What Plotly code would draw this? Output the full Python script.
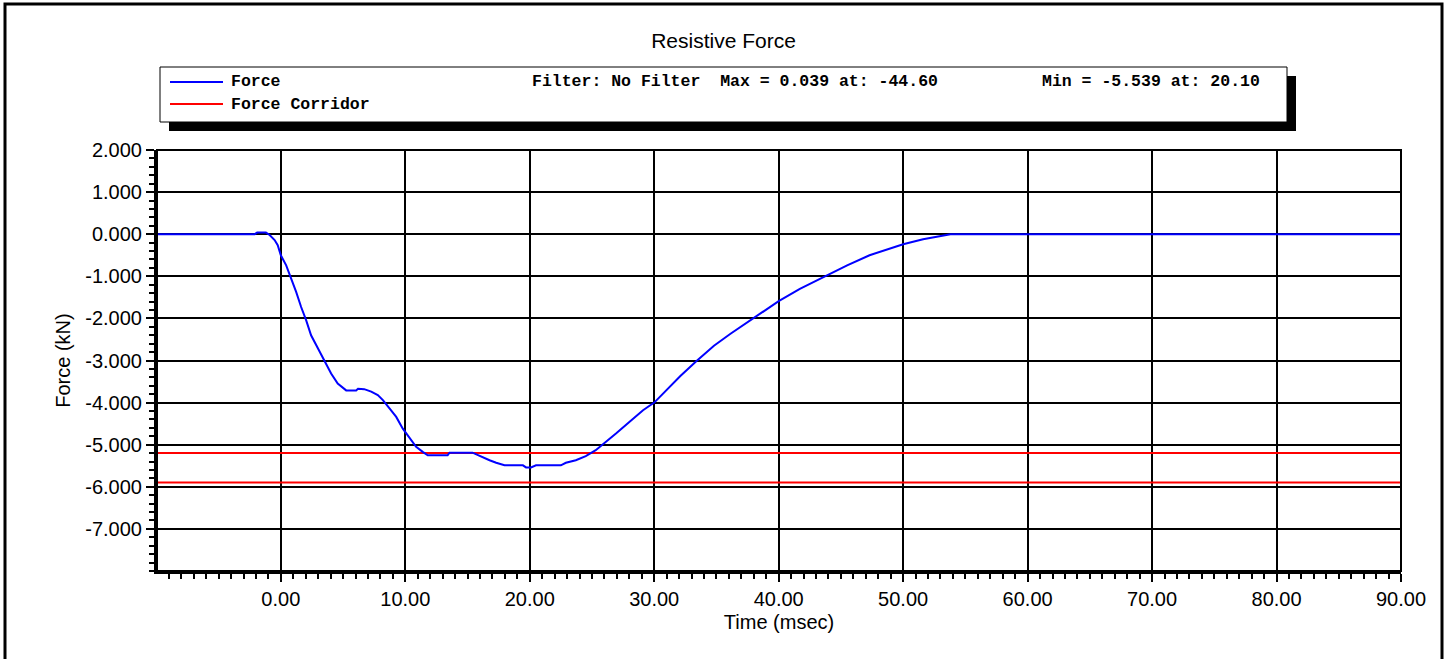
import plotly.graph_objects as go

# ---------------- data ----------------
time_ms = [-10, -2.1, -1.9, -1.2, -0.9, -0.5, -0.25, 0.0, 0.43, 0.83, 1.23, 1.63, 2.03, 2.43,
           2.84, 3.24, 3.64, 4.04, 4.57, 5.25, 6.05, 6.2, 6.7, 7.26, 7.79, 8.2, 8.73, 9.27,
           9.8, 10.34, 10.87, 11.4, 11.8, 13.4, 13.55, 15.4, 15.96, 16.77, 17.3, 17.97,
           19.45, 19.7, 20.1, 20.5, 22.5, 22.9, 23.7, 24.5, 25.3, 26.15, 26.95, 28.0, 29.1,
           30.0, 31.0, 32.1, 33.4, 34.8, 36.1, 37.8, 40.0, 41.7, 43.6, 45.5, 47.3, 48.7,
           50.0, 51.6, 53.0, 53.8, 90]
force_kn = [0, 0, 0.039, 0.039, -0.02, -0.14, -0.26, -0.50, -0.74, -1.05, -1.37, -1.73, -2.04,
            -2.40, -2.64, -2.87, -3.11, -3.31, -3.55, -3.71, -3.71, -3.67, -3.68, -3.74, -3.82,
            -3.94, -4.14, -4.34, -4.62, -4.85, -5.05, -5.17, -5.25, -5.25, -5.19, -5.19, -5.27,
            -5.37, -5.43, -5.49, -5.49, -5.539, -5.539, -5.49, -5.49, -5.43, -5.37, -5.27,
            -5.13, -4.93, -4.73, -4.46, -4.18, -4.0, -3.69, -3.37, -3.01, -2.65, -2.37, -2.03,
            -1.59, -1.30, -1.02, -0.74, -0.50, -0.37, -0.24, -0.12, -0.04, 0, 0]
corridor_t = [-10, 90]
corridor_upper = [-5.2, -5.2]
corridor_lower = [-5.9, -5.9]

x_tick_vals = [0, 10, 20, 30, 40, 50, 60, 70, 80, 90]
x_tick_text = ["0.00", "10.00", "20.00", "30.00", "40.00", "50.00", "60.00", "70.00", "80.00", "90.00"]
y_tick_vals = [2, 1, 0, -1, -2, -3, -4, -5, -6, -7]
y_tick_text = ["2.000", "1.000", "0.000", "-1.000", "-2.000", "-3.000", "-4.000", "-5.000", "-6.000", "-7.000"]

legend_names = ["Force", "Force Corridor"]
stats_filter = "Filter: No Filter  Max = 0.039 at: -44.60"
stats_min = "Min = -5.539 at: 20.10"

# ---------------- layout helpers ----------------
W, H = 1447, 659
L, R, T, B = 157, 1401, 150, 571


def px(x):
    return (x - L) / (R - L)


def py(y):
    return (B - y) / (B - T)


FONT = "Liberation Sans, Arial, sans-serif"
MONO = "Liberation Mono, Courier New, monospace"
TICK_SIZE = 20

fig = go.Figure()
fig.add_trace(go.Scatter(x=corridor_t, y=corridor_upper, mode="lines",
                         line=dict(color="#ff0000", width=2), showlegend=False))
fig.add_trace(go.Scatter(x=corridor_t, y=corridor_lower, mode="lines",
                         line=dict(color="#ff0000", width=2), showlegend=False))
fig.add_trace(go.Scatter(x=time_ms, y=force_kn, mode="lines",
                         line=dict(color="#0000ff", width=2), showlegend=False))

shapes = []
# outer border
shapes.append(dict(type="rect", xref="paper", yref="paper", x0=px(5), x1=px(1442), y0=py(700), y1=py(4),
                   line=dict(color="black", width=3), layer="below"))
# legend shadow + box
shapes.append(dict(type="rect", xref="paper", yref="paper", x0=px(169), x1=px(1296), y0=py(131), y1=py(76),
                   line=dict(width=0), fillcolor="black"))
shapes.append(dict(type="rect", xref="paper", yref="paper", x0=px(160), x1=px(1287), y0=py(122), y1=py(67),
                   line=dict(color="black", width=1), fillcolor="white"))
# legend keys
for color, yy in [("#0000ff", 82), ("#ff0000", 104)]:
    shapes.append(dict(type="line", xref="paper", yref="paper", x0=px(170), x1=px(223), y0=py(yy), y1=py(yy),
                       line=dict(color=color, width=2)))
# plot frame (top/right thin)
shapes.append(dict(type="rect", xref="paper", yref="paper", x0=0, x1=1, y0=0, y1=1,
                   line=dict(color="black", width=2)))

MONO_FONT = dict(family=MONO, size=16.5, color="black")
annotations = []
for name, yy in [(legend_names[0], 82), (legend_names[1], 104)]:
    annotations.append(dict(text=f"<b>{name}</b>", xref="paper", yref="paper", x=px(229), y=py(yy),
                            xanchor="left", yanchor="middle", showarrow=False, font=MONO_FONT))
annotations.append(dict(text=f"<b>{stats_filter}</b>", xref="paper", yref="paper", x=px(530), y=py(82),
                        xanchor="left", yanchor="middle", showarrow=False, font=MONO_FONT))
annotations.append(dict(text=f"<b>{stats_min}</b>", xref="paper", yref="paper", x=px(1040), y=py(82),
                        xanchor="left", yanchor="middle", showarrow=False, font=MONO_FONT))

axis_common = dict(ticks="outside", ticklen=8, tickwidth=1.5, tickcolor="black",
                   showgrid=True, gridcolor="black", gridwidth=2, zeroline=False,
                   showline=True, linecolor="black", linewidth=3,
                   tickfont=dict(family=FONT, size=TICK_SIZE, color="black"))

fig.update_layout(
    width=W, height=H,
    margin=dict(l=L, r=W - R, t=T, b=H - B, pad=0),
    paper_bgcolor="white", plot_bgcolor="white",
    title=dict(text="Resistive Force", x=0.5, xanchor="center", y=1 - 41 / H, yanchor="middle",
               font=dict(family=FONT, size=21, color="black")),
    font=dict(family=FONT, size=TICK_SIZE, color="black"),
    shapes=shapes, annotations=annotations, showlegend=False,
    xaxis=dict(range=[-9.95, 90], tickmode="array", tickvals=x_tick_vals, ticktext=x_tick_text,
               minor=dict(tickmode="linear", tick0=0, dtick=1, ticks="outside", ticklen=5,
                          tickwidth=1.5, tickcolor="black", showgrid=False),
               title=dict(text="Time (msec)", standoff=6, font=dict(family=FONT, size=20, color="black")),
               **axis_common),
    yaxis=dict(range=[-8, 2], tickmode="array", tickvals=y_tick_vals, ticktext=y_tick_text,
               minor=dict(tickmode="linear", tick0=0, dtick=0.2, ticks="outside", ticklen=5,
                          tickwidth=1.5, tickcolor="black", showgrid=False),
               title=dict(text="Force (kN)", standoff=10, font=dict(family=FONT, size=20, color="black")),
               **axis_common),
)

fig.write_html("out.html", config={"displayModeBar": False},
               post_script="document.body.style.margin='0';")
